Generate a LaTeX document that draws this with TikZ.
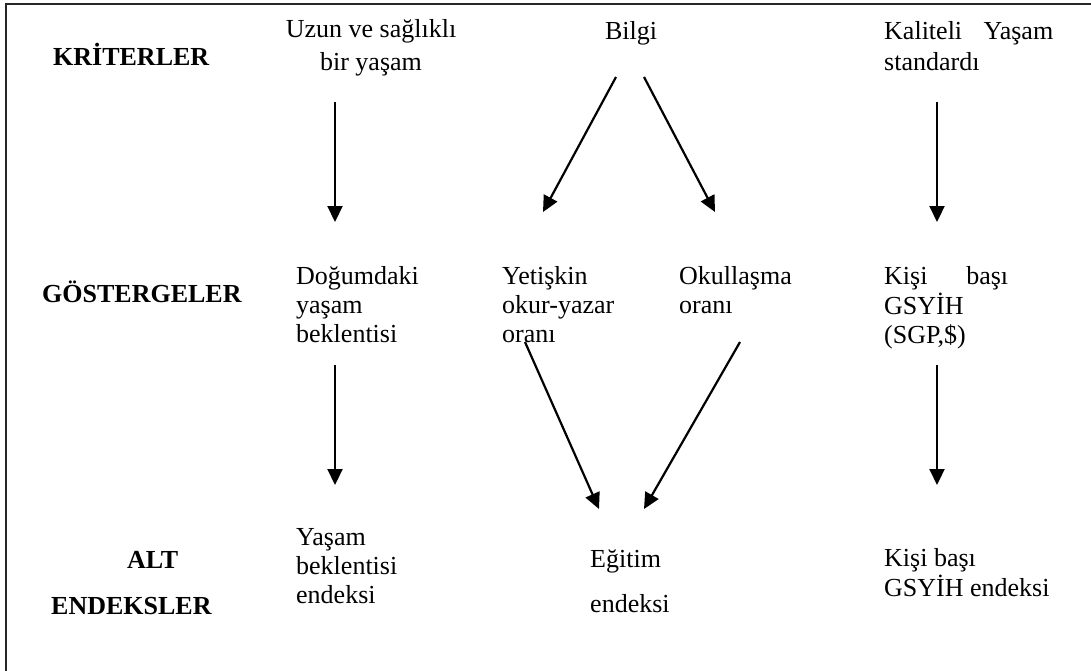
\documentclass[tikz,border=0pt]{standalone}
\usepackage{fontspec}
\setmainfont{Liberation Serif}
\usetikzlibrary{arrows.meta}
\newcommand{\txtfont}{\fontsize{26}{29}\selectfont}
\tikzset{
  lbl/.style={anchor=base west, inner sep=0pt, font=\txtfont\bfseries},
  txt/.style={anchor=base west, inner sep=0pt, font=\txtfont},
  arr/.style={line width=2.2pt, -{Triangle[length=16pt,width=15pt]}},
  frame/.style={line width=2.6pt, black!85}
}
\newcommand{\ml}[1]{\begin{tabular}[t]{@{}l@{}}#1\end{tabular}}
\begin{document}
\begin{tikzpicture}[x=1pt,y=-1pt]
\useasboundingbox (0,0) rectangle (1091,671);
\draw[frame] (6,671) -- (6,4) -- (1091,4);

% row labels
\node[lbl] (kri) at (53,66) {KRİTERLER};
\node[lbl] (gos) at (42,302) {GÖSTERGELER};
\node[lbl] (alt) at (127,568) {ALT};
\node[lbl] (end) at (51,614) {ENDEKSLER};

% criteria
\node[txt, anchor=base] (uzun) at (371,38) {\begin{tabular}[t]{@{}c@{}}Uzun ve sağlıklı\\[4pt] bir yaşam\end{tabular}};
\node[txt, anchor=base] (bilgi) at (631,40) {Bilgi};
\node[txt] (kal) at (884,40) {\ml{\makebox[169pt][s]{Kaliteli Yaşam}\\[2pt] standardı}};

% indicators
\node[txt] (dog) at (296,284) {\ml{Doğumdaki\\ yaşam\\ beklentisi}};
\node[txt] (yet) at (502,284) {\ml{Yetişkin\\ okur-yazar\\ oranı}};
\node[txt] (oku) at (679,284) {\ml{Okullaşma\\ oranı}};
\node[txt] (kis) at (884,284) {\ml{\makebox[124pt][s]{Kişi başı}\\ GSYİH\\ (SGP,\$)}};

% sub-indices
\node[txt] (yas) at (296,545) {\ml{Yaşam\\ beklentisi\\ endeksi}};
\node[txt] (egi) at (590,567) {\ml{Eğitim\\[16pt] endeksi}};
\node[txt] (kie) at (884,566) {\ml{Kişi başı\\ GSYİH endeksi}};

% arrow end points
\coordinate (a1s) at (335,102); \coordinate (a1e) at (335,222);
\coordinate (a2s) at (616,77);  \coordinate (a2e) at (543,212);
\coordinate (a3s) at (644,77);  \coordinate (a3e) at (715,212);
\coordinate (a4s) at (937,102); \coordinate (a4e) at (937,222);
\coordinate (a5s) at (335,365); \coordinate (a5e) at (335,485);
\coordinate (a6s) at (525,342); \coordinate (a6e) at (599,509);
\coordinate (a7s) at (740,342); \coordinate (a7e) at (644,509);
\coordinate (a8s) at (937,365); \coordinate (a8e) at (937,485);

\draw[arr] (a1s) -- (a1e);
\draw[arr] (a2s) -- (a2e);
\draw[arr] (a3s) -- (a3e);
\draw[arr] (a4s) -- (a4e);
\draw[arr] (a5s) -- (a5e);
\draw[arr] (a6s) -- (a6e);
\draw[arr] (a7s) -- (a7e);
\draw[arr] (a8s) -- (a8e);
\end{tikzpicture}
\end{document}
